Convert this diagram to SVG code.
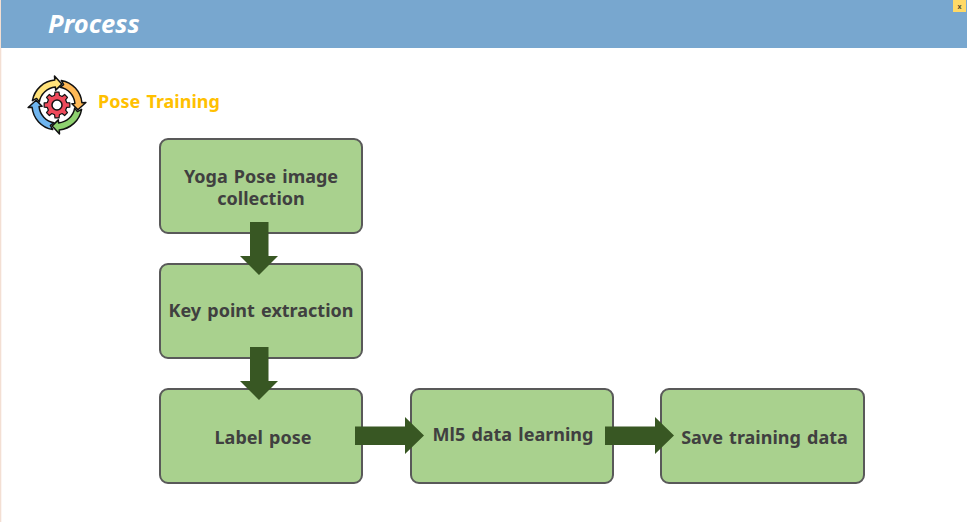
<svg xmlns="http://www.w3.org/2000/svg" width="967" height="522" viewBox="0 0 967 522">
<style>
text{font-family:"Noto Sans","Open Sans","Liberation Sans",sans-serif;font-weight:700}
.box{fill:#a9d18e;stroke:#595959;stroke-width:2}
.lbl{fill:#404040;font-size:18px;word-spacing:1.5px;text-anchor:middle}
.arr{fill:#385723}
.seg{stroke:#111;stroke-width:1.5;stroke-linejoin:round}
</style>
<defs>
<path id="seg" d="M4.300 -24.600A25 25 0 0 1 24.900 -2.200L28.900 -2.500L20.900 4.800L14.900 -1.300L17.900 -1.600A18 18 0 0 0 3.100 -17.700L6.600 -20.400Z"/>
</defs>
<rect width="967" height="522" fill="#fff"/>
<rect x="0" y="0" width="1.300" height="522" fill="#f3dfd3"/>
<g id="header">
<rect x="1" y="0" width="966" height="48" fill="#78a7cf"/>
<text x="48" y="33" font-size="25.500" font-style="italic" fill="#fff">Process</text>
</g>
<g id="close">
<rect x="953" y="0" width="13" height="12" fill="#ffd966"/>
<text x="959.500" y="8.500" font-size="7" fill="#5c5230" text-anchor="middle">x</text>
</g>
<g id="icon">
<g transform="translate(57 105)">
<use href="#seg" class="seg" fill="#ffb957"/>
<use href="#seg" class="seg" fill="#8ed16f" transform="rotate(90)"/>
<use href="#seg" class="seg" fill="#6fb5ef" transform="rotate(180)"/>
<use href="#seg" class="seg" fill="#ffe27a" transform="rotate(270)"/>
<polygon fill="#ef4a5b" stroke="#111" stroke-width="1.200" stroke-linejoin="round" points="-2.420,-9.700 -2.030,-12.840 2.030,-12.840 2.420,-9.700 5.150,-8.570 7.640,-10.510 10.510,-7.640 8.570,-5.150 9.700,-2.420 12.840,-2.030 12.840,2.030 9.700,2.420 8.570,5.150 10.510,7.640 7.640,10.510 5.150,8.570 2.420,9.700 2.030,12.840 -2.030,12.840 -2.420,9.700 -5.150,8.570 -7.640,10.510 -10.510,7.640 -8.570,5.150 -9.700,2.420 -12.840,2.030 -12.840,-2.030 -9.700,-2.420 -8.570,-5.150 -10.510,-7.640 -7.640,-10.510 -5.150,-8.570"/>
<circle r="5" fill="#fff" stroke="#111" stroke-width="1.500"/>
</g>
</g>
<text id="section-title" x="98" y="108" font-size="18" word-spacing="1.500" fill="#ffc000">Pose Training</text>
<g id="node-collection">
<rect class="box" x="160" y="139" width="202" height="94" rx="8"/>
<text class="lbl" x="261" y="183">Yoga Pose image<tspan x="261" dy="22">collection</tspan></text>
</g>
<g id="node-keypoint">
<rect class="box" x="160" y="264" width="202" height="94" rx="8"/>
<text class="lbl" x="261" y="317">Key point extraction</text>
</g>
<g id="node-label">
<rect class="box" x="160" y="389" width="202" height="94" rx="8"/>
<text class="lbl" x="263" y="444">Label pose</text>
</g>
<g id="node-learning">
<rect class="box" x="411" y="389" width="202" height="94" rx="8"/>
<text class="lbl" x="513" y="441">Ml5 data learning</text>
</g>
<g id="node-save">
<rect class="box" x="661" y="389" width="203" height="94" rx="8"/>
<text class="lbl" x="764.500" y="444">Save training data</text>
</g>
<g id="connectors">
<polygon class="arr" points="250,222 268.500,222 268.500,256 278,256 259,275 240,256 250,256"/>
<polygon class="arr" points="250,347 268.500,347 268.500,381 278,381 259,400 240,381 250,381"/>
<polygon class="arr" points="355,426.500 405,426.500 405,417 424,435.500 405,454 405,445 355,445"/>
<polygon class="arr" points="605,426.500 655,426.500 655,417 674,435.500 655,454 655,445 605,445"/>
</g>
</svg>
